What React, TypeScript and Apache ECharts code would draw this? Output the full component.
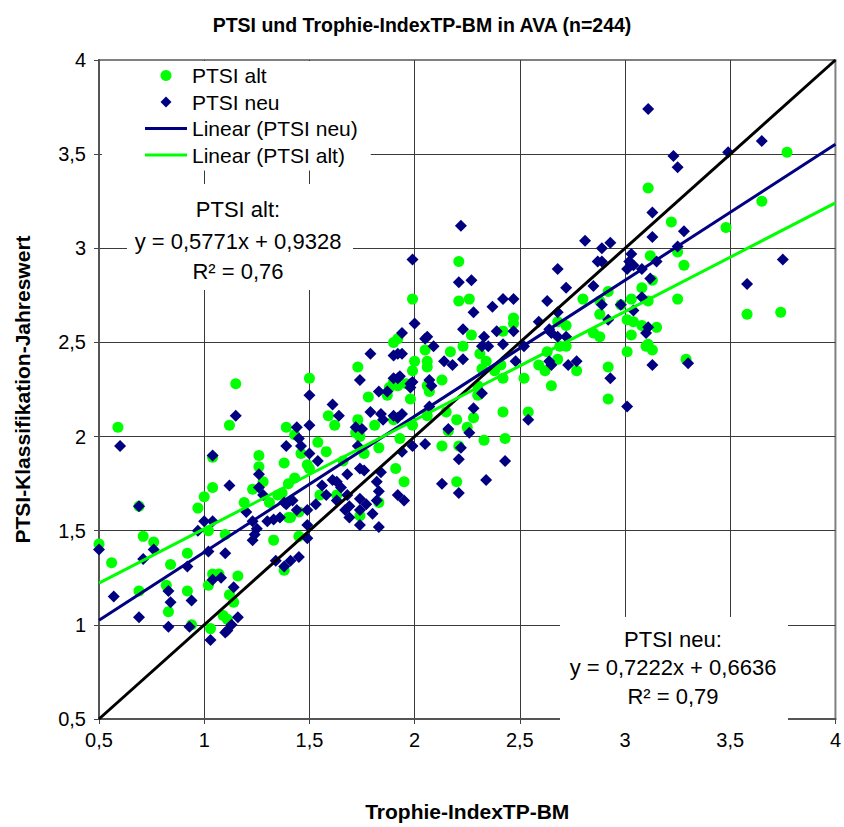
import { useEffect, useRef } from 'react';
import * as echarts from 'echarts';

const chartTitle = 'PTSI und Trophie-IndexTP-BM in AVA (n=244)';
const xAxisName = 'Trophie-IndexTP-BM';
const yAxisName = 'PTSI-Klassifikation-Jahreswert';
const axisMin = 0.5;
const axisMax = 4;
const axisStep = 0.5;

// PTSI alt (green circles): [Trophie-Index TP-BM, PTSI]
const ptsiAlt: [number, number][] = [
  [0.5, 1.43], [0.59, 2.05], [0.56, 1.33], [0.69, 1.63], [0.71, 1.47], [0.76, 1.44], [0.69, 1.18],
  [0.84, 1.32], [0.82, 1.21], [0.92, 1.38], [0.92, 1.18], [0.83, 1.07], [0.94, 1.0], [0.97, 1.62],
  [1.0, 1.68], [1.04, 1.73], [1.04, 1.89], [1.02, 1.5], [1.1, 1.48], [1.04, 1.27], [1.02, 1.21],
  [1.07, 1.27], [1.16, 1.26], [1.12, 1.16], [1.14, 1.12], [1.09, 1.05], [1.11, 1.03], [1.03, 0.98],
  [1.15, 2.28], [1.12, 2.06], [1.39, 2.05], [1.38, 1.86], [1.4, 1.75], [1.26, 1.9], [1.26, 1.84],
  [1.28, 1.76], [1.23, 1.72], [1.19, 1.65], [1.31, 1.65], [1.35, 1.69], [1.33, 1.45], [1.4, 1.57],
  [1.38, 1.29], [1.5, 2.31], [1.43, 2.01], [1.54, 1.97], [1.58, 1.92], [1.46, 1.91], [1.49, 1.85],
  [1.43, 1.78], [1.37, 1.7], [1.45, 1.6], [1.41, 1.57], [1.55, 1.69], [1.59, 2.11], [1.62, 2.06],
  [1.73, 2.37], [1.78, 2.21], [1.73, 2.09], [1.72, 2.02], [1.81, 2.06], [1.74, 2.0], [1.83, 1.94],
  [1.76, 1.91], [1.66, 1.87], [1.91, 1.83], [1.95, 1.76], [1.83, 1.65], [1.74, 1.58], [1.87, 2.22],
  [1.9, 2.29], [2.0, 2.4], [1.98, 2.2], [2.05, 2.46], [2.06, 2.37], [1.99, 2.06], [1.93, 1.99],
  [1.9, 2.09], [1.9, 2.5], [1.92, 2.52], [1.92, 2.27], [1.88, 2.26], [2.06, 2.27], [1.63, 1.69],
  [1.5, 1.83], [1.45, 1.47], [2.21, 2.93], [1.99, 2.73], [2.21, 2.72], [2.26, 2.73], [2.27, 2.54],
  [2.47, 2.63], [2.47, 2.6], [2.42, 2.56], [2.23, 2.48], [2.17, 2.45], [2.06, 2.4], [1.99, 2.35],
  [1.96, 2.28], [2.13, 2.3], [2.32, 2.36], [2.31, 2.44], [2.34, 2.4], [2.38, 2.35], [2.41, 2.38],
  [2.42, 2.31], [2.52, 2.31], [2.63, 2.45], [2.62, 2.35], [2.59, 2.38], [2.65, 2.27], [2.07, 2.24],
  [2.3, 2.22], [2.3, 2.27], [2.15, 2.13], [2.06, 2.11], [2.2, 2.09], [2.28, 2.1], [2.16, 2.03],
  [2.42, 2.13], [2.54, 2.13], [2.25, 2.05], [2.33, 1.98], [2.43, 1.99], [2.13, 1.95], [2.21, 1.95],
  [2.2, 1.76], [3.11, 3.32], [3.22, 3.14], [3.12, 2.96], [3.25, 2.98], [3.28, 2.91], [3.13, 2.83],
  [3.08, 2.79], [2.92, 2.77], [2.8, 2.73], [2.88, 2.72], [3.03, 2.73], [3.11, 2.72], [3.25, 2.73],
  [2.98, 2.7], [2.88, 2.65], [3.01, 2.62], [3.04, 2.61], [3.08, 2.59], [3.15, 2.58], [2.85, 2.55],
  [2.88, 2.53], [3.03, 2.54], [2.72, 2.59], [2.68, 2.61], [2.72, 2.48], [2.69, 2.48], [2.68, 2.41],
  [2.77, 2.35], [3.01, 2.45], [3.1, 2.48], [3.13, 2.46], [3.11, 2.49], [2.92, 2.37], [2.92, 2.2],
  [3.29, 2.41], [3.77, 3.51], [3.65, 3.25], [3.48, 3.11], [3.58, 2.65], [3.74, 2.66],
];

// PTSI neu (navy diamonds): [Trophie-Index TP-BM, PTSI]
const ptsiNeu: [number, number][] = [
  [0.6, 1.95], [0.5, 1.4], [0.69, 1.63], [0.76, 1.4], [0.71, 1.35], [0.57, 1.15], [0.69, 1.04],
  [0.83, 1.18], [0.84, 1.12], [0.83, 0.99], [0.92, 1.31], [0.94, 1.13], [0.93, 0.99], [1.0, 1.55],
  [1.04, 1.55], [0.97, 1.5], [1.02, 1.39], [1.1, 1.38], [1.04, 1.9], [1.12, 1.74], [1.04, 1.24],
  [1.08, 1.25], [1.14, 1.2], [1.16, 1.04], [1.13, 1.0], [1.1, 0.96], [1.03, 0.92], [1.11, 0.97],
  [1.15, 2.11], [1.26, 1.8], [1.26, 1.73], [1.28, 1.69], [1.2, 1.6], [1.23, 1.55], [1.25, 1.51],
  [1.23, 1.45], [1.3, 1.55], [1.33, 1.56], [1.36, 1.57], [1.39, 1.95], [1.39, 1.64], [1.34, 1.34],
  [1.38, 1.31], [1.41, 1.34], [1.45, 1.36], [1.5, 2.22], [1.79, 2.44], [1.74, 2.3], [1.61, 2.17],
  [1.64, 2.11], [1.5, 2.06], [1.44, 2.05], [1.45, 1.99], [1.46, 1.95], [1.5, 1.91], [1.54, 1.87],
  [1.24, 1.48], [1.42, 1.66], [1.38, 1.65], [1.44, 1.61], [1.49, 1.61], [1.53, 1.64], [1.49, 1.53],
  [1.49, 1.46], [1.56, 1.74], [1.58, 1.69], [1.63, 1.76], [1.65, 1.73], [1.68, 1.8], [1.61, 1.77],
  [1.63, 1.66], [1.68, 1.69], [1.69, 1.63], [1.67, 1.61], [1.69, 1.57], [1.74, 1.67], [1.74, 1.61],
  [1.77, 1.64], [1.74, 1.53], [1.8, 1.59], [1.74, 1.83], [1.76, 1.82], [1.73, 1.95], [1.72, 2.05],
  [1.75, 2.04], [1.82, 1.76], [1.83, 1.71], [1.82, 1.66], [1.83, 1.52], [1.84, 1.81], [1.79, 2.13],
  [1.84, 2.12], [1.85, 2.09], [1.83, 2.24], [1.87, 2.24], [1.9, 2.31], [1.92, 2.31], [1.9, 2.43],
  [1.92, 2.44], [1.94, 2.55], [1.98, 2.28], [1.98, 2.26], [1.9, 2.11], [1.92, 2.1], [1.92, 1.69],
  [1.95, 1.66], [1.94, 1.92], [1.99, 1.95], [2.05, 1.96], [2.05, 2.52], [1.99, 2.94], [2.22, 3.12],
  [2.21, 2.82], [2.27, 2.83], [2.28, 2.66], [2.37, 2.69], [2.42, 2.73], [2.47, 2.73], [2.0, 2.6],
  [2.23, 2.57], [2.06, 2.53], [2.09, 2.48], [2.33, 2.53], [2.39, 2.56], [2.47, 2.56], [2.32, 2.48],
  [2.35, 2.48], [2.42, 2.49], [1.94, 2.44], [2.14, 2.4], [2.18, 2.38], [2.23, 2.41], [2.48, 2.4],
  [2.52, 2.48], [2.59, 2.61], [2.64, 2.57], [2.65, 2.38], [2.68, 2.89], [1.93, 2.32], [1.99, 2.29],
  [2.07, 2.3], [2.08, 2.27], [2.32, 2.23], [2.07, 2.16], [1.94, 2.12], [2.28, 2.15], [2.16, 2.04],
  [2.26, 2.02], [2.54, 2.09], [2.22, 1.94], [2.21, 1.88], [2.43, 1.87], [2.13, 1.75], [2.21, 1.7],
  [2.34, 1.77], [3.13, 3.19], [3.13, 3.06], [3.28, 3.09], [3.25, 3.01], [3.15, 2.93], [3.03, 2.97],
  [3.02, 2.93], [3.04, 2.91], [3.01, 2.89], [3.08, 2.89], [3.12, 2.84], [2.81, 3.04], [2.89, 3.0],
  [2.93, 3.03], [2.87, 2.93], [2.89, 2.93], [2.72, 2.79], [2.85, 2.8], [2.63, 2.72], [2.89, 2.7],
  [2.98, 2.7], [3.04, 2.67], [3.08, 2.74], [2.68, 2.66], [2.65, 2.55], [2.92, 2.62], [3.11, 2.58],
  [3.1, 2.55], [2.68, 2.53], [2.72, 2.53], [2.64, 2.4], [2.73, 2.38], [2.77, 2.4], [3.13, 2.38],
  [3.3, 2.39], [2.93, 2.31], [3.01, 2.16], [3.49, 3.51], [3.65, 3.57], [3.75, 2.94], [3.58, 2.81],
  [3.11, 3.74], [3.23, 3.49], [3.25, 3.43],
];

// Trendline coefficients as printed on the chart
const trendNeu = { slope: 0.7222, intercept: 0.6636, r2: '0,79' };
const trendAlt = { slope: 0.5771, intercept: 0.9328, r2: '0,76' };
// 1:1 reference line endpoints
const identityLine: [number, number][] = [[0.5, 0.5], [4, 4]];

const seriesNames = ['PTSI alt', 'PTSI neu', 'Linear (PTSI neu)', 'Linear (PTSI alt)'];

const fmt = (n: number) => String(n).replace('.', ',');
const trendPoints = (t: { slope: number; intercept: number }): [number, number][] => [
  [axisMin, t.slope * axisMin + t.intercept],
  [axisMax, t.slope * axisMax + t.intercept],
];

const FONT = '"Liberation Sans", Arial, sans-serif';
const GREEN = '#00FF00';
const NAVY = '#000080';
const DIAMOND_ICON = 'path://M5,0 L10,5 L5,10 L0,5 Z';
const LINE_ICON = 'path://M0,0 L42,0 L42,3 L0,3 Z';

export default function App() {
  const ref = useRef<HTMLDivElement>(null);
  useEffect(() => {
    if (!ref.current) return;
    const chart = echarts.init(ref.current, undefined, { renderer: 'svg' });
    const axisCommon = {
      type: 'value' as const,
      min: axisMin,
      max: axisMax,
      interval: axisStep,
      nameLocation: 'middle' as const,
      nameTextStyle: { fontFamily: FONT, fontSize: 21, fontWeight: 'bold' as const, color: '#000' },
      axisLine: { show: true, onZero: false, lineStyle: { color: '#555', width: 2 } },
      axisTick: { show: true, length: 5, lineStyle: { color: '#444', width: 1 } },
      axisLabel: { fontFamily: FONT, fontSize: 20, color: '#000', formatter: (v: number) => fmt(v) },
      splitLine: { show: true, showMaxLine: false, showMinLine: false, lineStyle: { color: '#3a3a3a', width: 1 } },
    };
    const boxText = (x: number, y: number, text: string) => ({
      type: 'text', x, y, z: 101,
      style: { text, fontFamily: FONT, fontSize: 22, fill: '#000', align: 'center', verticalAlign: 'middle' },
    });
    chart.setOption({
      animation: false,
      backgroundColor: '#fff',
      title: {
        text: chartTitle, left: 'center', top: 10,
        textStyle: { fontFamily: FONT, fontSize: 19.5, fontWeight: 'bold', color: '#000' },
      },
      grid: { left: 99, right: 8, top: 60, bottom: 105, show: true, borderColor: '#808080', borderWidth: 2, backgroundColor: 'transparent' },
      legend: {
        data: [
          { name: seriesNames[0], icon: 'circle' },
          { name: seriesNames[1], icon: DIAMOND_ICON },
          { name: seriesNames[2], icon: LINE_ICON },
          { name: seriesNames[3], icon: LINE_ICON },
        ],
        orient: 'vertical',
        left: 102, top: 61,
        padding: [4, 13, 5, 43],
        backgroundColor: '#fff',
        itemWidth: 42, itemHeight: 11, itemGap: 5.5,
        symbolKeepAspect: true,
        textStyle: { fontFamily: FONT, fontSize: 21, color: '#000' },
        z: 50,
      },
      xAxis: { ...axisCommon, name: xAxisName, nameGap: 82, axisLabel: { ...axisCommon.axisLabel, margin: 11 } },
      yAxis: { ...axisCommon, name: yAxisName, nameGap: 66, axisLabel: { ...axisCommon.axisLabel, margin: 13 } },
      graphic: [
        { type: 'rect', z: 100, shape: { x: 127, y: 184, width: 226, height: 106 }, style: { fill: '#fff' } },
        boxText(238, 209, 'PTSI alt:'),
        boxText(238, 241, `y = ${fmt(trendAlt.slope)}x + ${fmt(trendAlt.intercept)}`),
        boxText(238, 271, `R² = ${trendAlt.r2}`),
        { type: 'rect', z: 100, shape: { x: 560, y: 617, width: 228, height: 107 }, style: { fill: '#fff' } },
        boxText(673, 639, 'PTSI neu:'),
        boxText(673, 667, `y = ${fmt(trendNeu.slope)}x + ${fmt(trendNeu.intercept)}`),
        boxText(673, 696, `R² = ${trendNeu.r2}`),
      ],
      series: [
        {
          name: 'PTSI alt', type: 'scatter', data: ptsiAlt, symbol: 'circle', symbolSize: 11, z: 2,
          itemStyle: { color: GREEN, opacity: 1 },
        },
        {
          name: 'PTSI neu', type: 'scatter', data: ptsiNeu, symbol: 'diamond', symbolSize: 12, z: 3,
          itemStyle: { color: NAVY, opacity: 1 },
        },
        {
          name: '1:1', type: 'line', data: identityLine, symbol: 'none', z: 4, silent: true,
          lineStyle: { color: '#000', width: 3 },
        },
        {
          name: 'Linear (PTSI neu)', type: 'line', data: trendPoints(trendNeu), symbol: 'none', z: 5,
          lineStyle: { color: NAVY, width: 3 }, itemStyle: { color: NAVY },
        },
        {
          name: 'Linear (PTSI alt)', type: 'line', data: trendPoints(trendAlt), symbol: 'none', z: 5,
          lineStyle: { color: GREEN, width: 3 }, itemStyle: { color: GREEN },
        },
      ],
    });
    return () => chart.dispose();
  }, []);
  return <div ref={ref} style={{ position: 'absolute', left: 0, top: 0, width: 844, height: 827, background: '#fff' }} />;
}
